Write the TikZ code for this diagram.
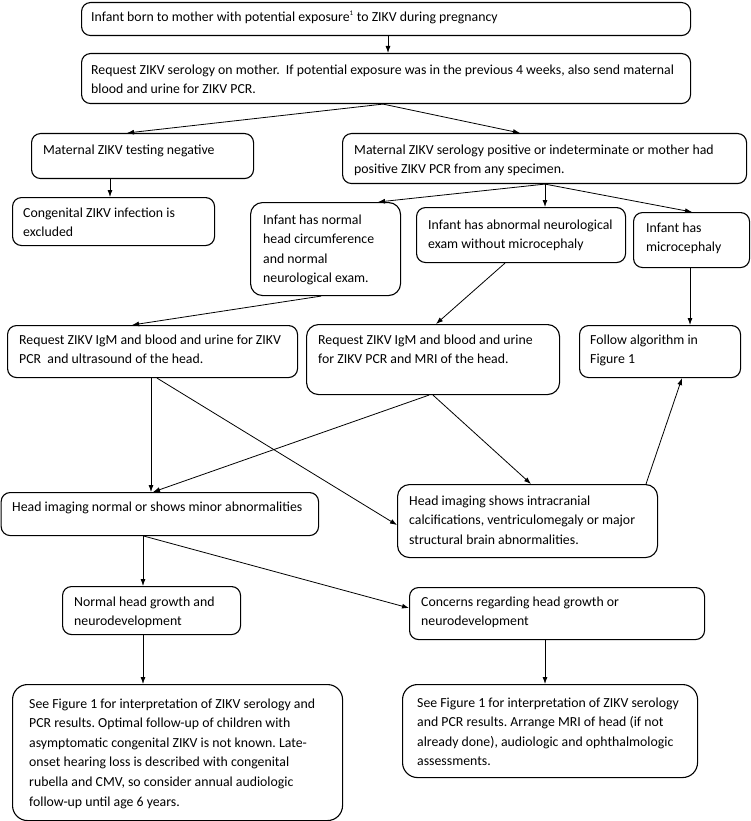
\documentclass[tikz,border=0pt]{standalone}
\usepackage{fontspec}
\setmainfont{Carlito}
\usetikzlibrary{arrows.meta}
\frenchspacing
\newcommand\flowbox[9][9pt]{%
  \node[box, rounded corners=#1, minimum width={(#5-#3)*1pt}, minimum height={(#6-#4)*1pt}] (#2) at (#3,#4) {};
  \node[txt] at (#7,#8-7.6) {\rule{0pt}{11.5pt}#9};}
\begin{document}
\begin{tikzpicture}[x=1pt,y=-1pt,
  box/.style={draw, line width=1.1pt, inner sep=0pt, anchor=north west},
  txt/.style={anchor=north west, inner sep=0pt, align=left, font=\fontsize{13.8}{19.6}\selectfont},
  arr/.style={line width=0.8pt, -{Latex[length=7pt,width=5pt]}}]
\useasboundingbox (0,0) rectangle (751,821);

\flowbox{b1}{81}{2}{690}{35}{91}{17}{Infant born to mother with potential exposure\textsuperscript{\scriptsize 1} to ZIKV during pregnancy}
\flowbox{b2}{81}{53}{690}{103}{91}{70}{Request ZIKV serology on mother.\ \ If potential exposure was in the previous 4 weeks, also send maternal\\blood and urine for ZIKV PCR.}
\flowbox{b3}{31}{133}{253}{178}{43}{150}{Maternal ZIKV testing negative}
\flowbox{b4}{342}{133}{746}{183}{354}{150}{Maternal ZIKV serology positive or indeterminate or mother had\\positive ZIKV PCR from any specimen.}
\flowbox{b5}{12}{197}{214}{245}{23}{213}{Congenital ZIKV infection is\\excluded}
\flowbox[12pt]{b6}{250}{202}{400}{295}{263}{220}{Infant has normal\\head circumference\\and normal\\neurological exam.}
\flowbox{b7}{416}{207}{625}{262}{428}{225}{Infant has abnormal neurological\\exam without microcephaly}
\flowbox{b8}{633}{212}{749}{267}{646}{228}{Infant has\\microcephaly}
\flowbox{b9}{7}{325}{297}{377}{19}{340}{Request ZIKV IgM and blood and urine for ZIKV\\PCR\ \ and ultrasound of the head.}
\flowbox[12pt]{b10}{306}{324}{559}{394}{318}{340}{Request ZIKV IgM and blood and urine\\for ZIKV PCR and MRI of the head.}
\flowbox{b11}{579}{325}{740}{377}{590}{340}{Follow algorithm in\\Figure 1}
\flowbox{b12}{0.6}{492}{318}{535}{12}{507}{Head imaging normal or shows minor abnormalities}
\flowbox[12pt]{b13}{397}{484}{657}{557}{409}{501}{Head imaging shows intracranial\\calcifications, ventriculomegaly or major\\structural brain abnormalities.}
\flowbox{b14}{62}{586}{240}{634}{74}{602}{Normal head growth and\\neurodevelopment}
\flowbox{b15}{409}{587}{704}{639}{421}{602}{Concerns regarding head growth or\\neurodevelopment}
\flowbox[15pt]{b16}{12}{684}{342}{820}{29}{704}{See Figure 1 for interpretation of ZIKV serology and\\PCR results. Optimal follow-up of children with\\asymptomatic congenital ZIKV is not known. Late-\\onset hearing loss is described with congenital\\rubella and CMV, so consider annual audiologic\\follow-up until age 6 years.}
\flowbox[15pt]{b17}{402}{684}{697}{777}{417}{703}{See Figure 1 for interpretation of ZIKV serology\\and PCR results. Arrange MRI of head (if not\\already done), audiologic and ophthalmologic\\assessments.}

\draw[arr] (388,0 |- b1.south) -- (388,0 |- b2.north);
\draw[arr] (383,0 |- b2.south) -- (127,0 |- b3.north);
\draw[arr] (383,0 |- b2.south) -- (520,0 |- b4.north);
\draw[arr] (110,0 |- b3.south) -- (110,0 |- b5.north);
\draw[arr] (545,0 |- b4.south) -- (378,0 |- b6.north);
\draw[arr] (545,0 |- b4.south) -- (545,0 |- b7.north);
\draw[arr] (545,0 |- b4.south) -- (692,0 |- b8.north);
\draw[arr] (321,0 |- b6.south) -- (132,0 |- b9.north);
\draw[arr] (505,0 |- b7.south) -- (436,0 |- b10.north);
\draw[arr] (690,0 |- b8.south) -- (690,0 |- b11.north);
\draw[arr] (151,0 |- b9.south) -- (151,0 |- b12.north);
\draw[arr] (157,0 |- b9.south) -- (b13.west |- 0,525);
\draw[arr] (429,0 |- b10.south) -- (153,0 |- b12.north);
\draw[arr] (433,0 |- b10.south) -- (531,0 |- b13.north);
\draw[arr] (646,0 |- b13.north) -- (682,0 |- b11.south);
\draw[arr] (143,0 |- b12.south) -- (143,0 |- b14.north);
\draw[arr] (144,0 |- b12.south) -- (b15.west |- 0,608);
\draw[arr] (143,0 |- b14.south) -- (143,0 |- b16.north);
\draw[arr] (545,0 |- b15.south) -- (545,0 |- b17.north);
\end{tikzpicture}
\end{document}
